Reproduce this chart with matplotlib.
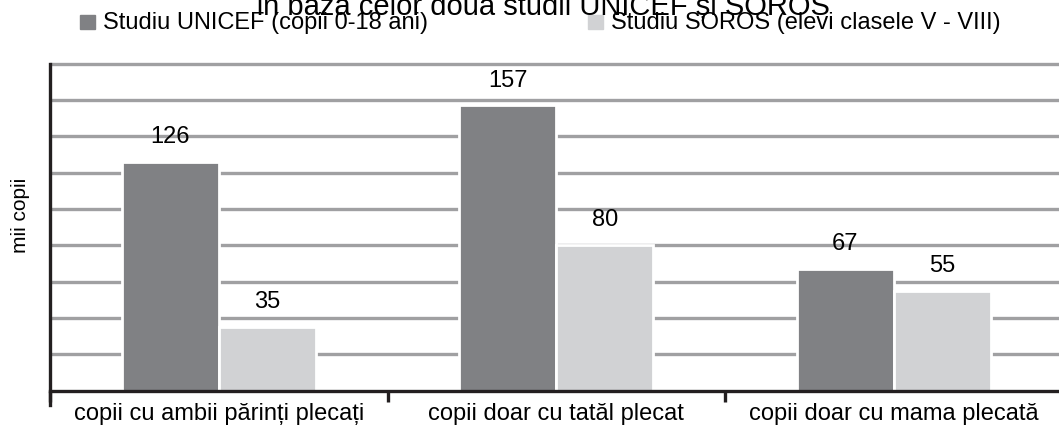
import matplotlib
matplotlib.use('Agg')
import matplotlib.pyplot as plt
import numpy as np
from matplotlib.patches import Rectangle

plt.rcParams['font.family'] = ['Liberation Sans', 'DejaVu Sans']

categories = ['copii cu ambii părinți plecați', 'copii doar cu tatăl plecat',
              'copii doar cu mama plecată']
unicef = [126, 157, 67]
soros = [35, 80, 55]
series_names = ['Studiu UNICEF (copii 0-18 ani)', 'Studiu SOROS (elevi clasele V - VIII)']
title = 'în baza celor două studii UNICEF și SOROS'
ylabel = 'mii copii'

DARK, LIGHT, GRID = '#808184', '#d1d2d4', '#a0a0a2'
W, H = 1059, 426

fig = plt.figure(figsize=(W / 100, H / 100), dpi=100)
ax = fig.add_axes([50 / W, 35.4 / H, 1012.5 / W, 330.7 / H])

x = np.arange(len(categories))
bw = 0.287
for vals, off, col in ((unicef, -bw / 2, DARK), (soros, bw / 2, LIGHT)):
    bars = ax.bar(x + off, vals, width=bw, color=col, edgecolor='white',
                  linewidth=2, zorder=3)
    for b, v in zip(bars, vals):
        ax.annotate(str(v), (b.get_x() + b.get_width() / 2, v),
                    xytext=(0, 13.5), textcoords='offset points',
                    ha='center', va='baseline', fontsize=17, zorder=4)

ax.set_xlim(-0.5, 2.5)
ax.set_ylim(0, 182)
ax.set_yticks(np.arange(20, 181, 20))
ax.yaxis.grid(True, color=GRID, lw=2.4, zorder=1)
ax.tick_params(axis='y', length=0, labelleft=False)

ax.set_xticks(x)
ax.set_xticklabels(categories, fontsize=17)
ax.set_xticks([-0.5, 0.5, 1.5, 2.5], minor=True)
ax.tick_params(axis='x', which='major', length=0, pad=9)
ax.tick_params(axis='x', which='minor', length=8, width=2.4, color='#231f20',
               direction='out')

for s in ('top', 'right'):
    ax.spines[s].set_visible(False)
for s in ('left', 'bottom'):
    ax.spines[s].set_color('#231f20')
    ax.spines[s].set_linewidth(2.4)
ax.spines['left'].set_bounds(-8, 180)
ax.spines['left'].set_zorder(5)
ax.spines['bottom'].set_zorder(5)

fig.text(21 / W, 1 - 215 / H, ylabel, rotation=90, ha='center', va='center',
         fontsize=15)

# legend drawn by hand, as in the source
for (x0, name, col) in ((80, series_names[0], DARK), (588, series_names[1], LIGHT)):
    fig.patches.append(Rectangle((x0 / W, 1 - 29 / H), 15 / W, 14 / H,
                                 transform=fig.transFigure, color=col))
    fig.text((x0 + 23) / W, 1 - 29 / H, name, ha='left', va='baseline',
             fontsize=17)

fig.text(543 / W, 1 - 15 / H, title, ha='center', va='baseline', fontsize=21)

fig.savefig('out.png', dpi=100)
